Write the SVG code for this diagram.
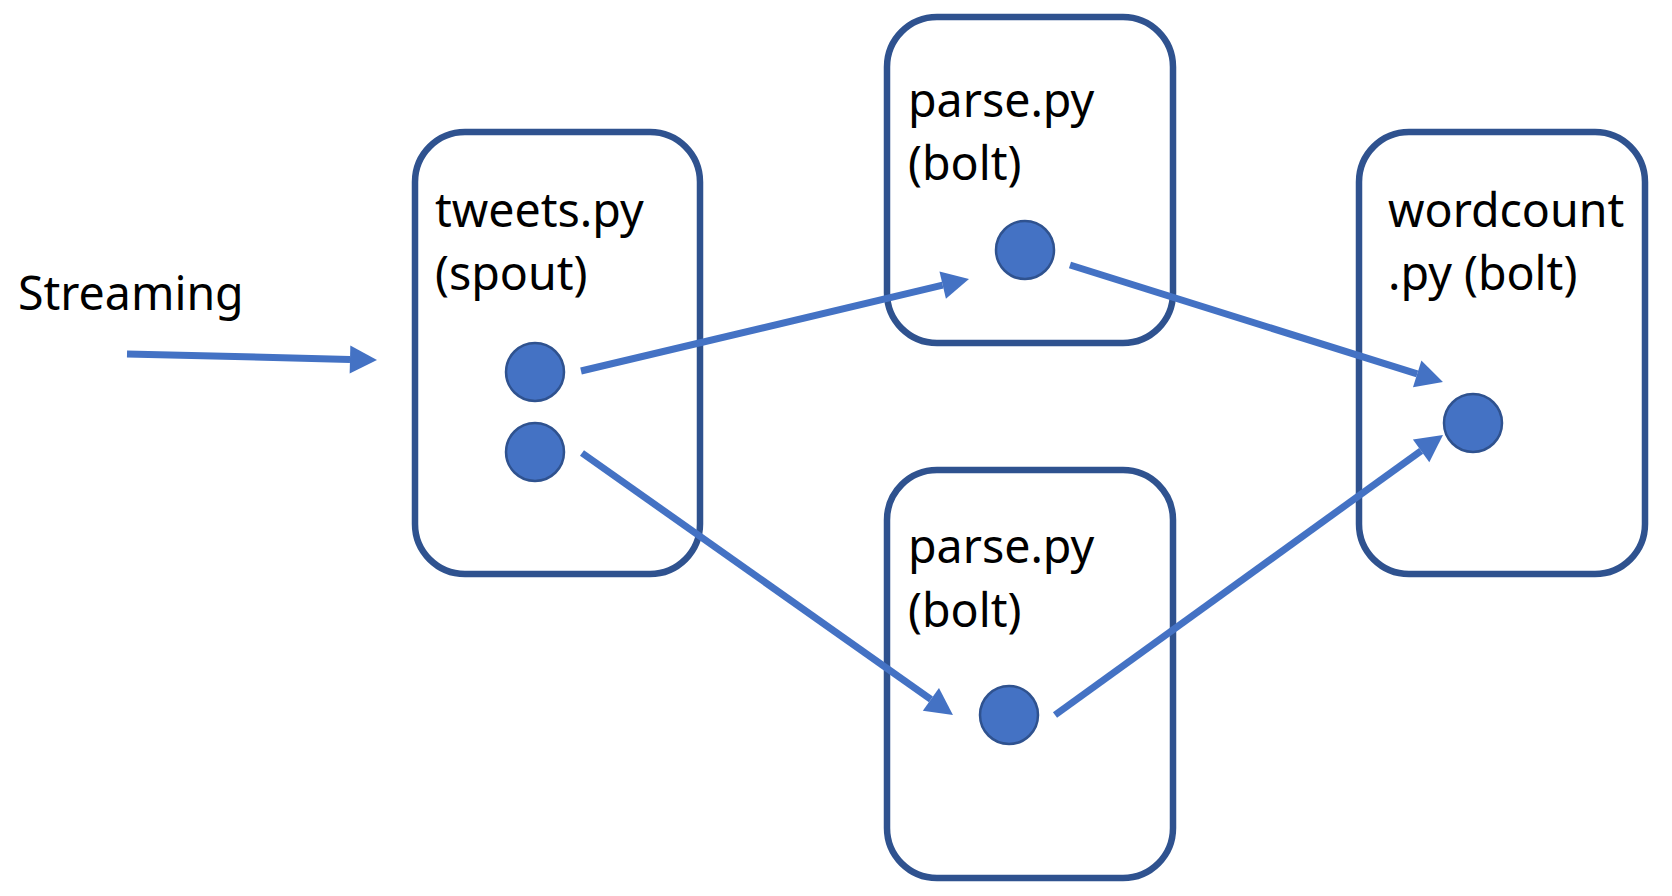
<svg xmlns="http://www.w3.org/2000/svg" width="1672" height="896" viewBox="0 0 1672 896">
<style>
.box{fill:#fff;stroke:#2F528F;stroke-width:6.5}
.dot{fill:#4472C4;stroke:#2F528F;stroke-width:2.5}
.lbl{font-family:"Noto Sans","DejaVu Sans",sans-serif;font-size:46.5px;fill:#000}
.conn{stroke:#4472C4;stroke-width:7;fill:none;marker-end:url(#ah)}
</style>
<defs>
<marker id="ah" markerUnits="userSpaceOnUse" markerWidth="28" markerHeight="28" refX="0" refY="14" orient="auto" overflow="visible">
<path d="M0,0 L27,14 L0,28 z" fill="#4472C4"/>
</marker>
</defs>
<rect width="1672" height="896" fill="#fff"/>
<g id="streaming">
<text class="lbl" x="18" y="310">Streaming</text>
</g>
<g id="tweets">
<rect class="box" x="415" y="132" width="285" height="442" rx="50"/>
<text class="lbl" x="435" y="227">tweets.py</text>
<text class="lbl" x="435" y="290">(spout)</text>
<circle class="dot" cx="535" cy="372" r="29"/>
<circle class="dot" cx="535" cy="452" r="29"/>
</g>
<g id="parse-top">
<rect class="box" x="887" y="17" width="286" height="326" rx="50"/>
<text class="lbl" x="908" y="117">parse.py</text>
<text class="lbl" x="908" y="180">(bolt)</text>
<circle class="dot" cx="1025" cy="250" r="29"/>
</g>
<g id="parse-bottom">
<rect class="box" x="887" y="470" width="286" height="408" rx="50"/>
<text class="lbl" x="908" y="563">parse.py</text>
<text class="lbl" x="908" y="627">(bolt)</text>
<circle class="dot" cx="1009" cy="715" r="29"/>
</g>
<g id="wordcount">
<rect class="box" x="1359" y="132" width="286" height="442" rx="50"/>
<text class="lbl" x="1388" y="227">wordcount</text>
<text class="lbl" x="1388" y="290">.py (bolt)</text>
<circle class="dot" cx="1473" cy="423" r="29"/>
</g>
<g id="connectors">
<line class="conn" x1="127" y1="354" x2="350" y2="359.4"/>
<line class="conn" x1="581" y1="371" x2="942.7" y2="285.2"/>
<line class="conn" x1="1070" y1="265" x2="1417.2" y2="373.9"/>
<line class="conn" x1="582" y1="453" x2="930.9" y2="699.4"/>
<line class="conn" x1="1055" y1="715" x2="1421.1" y2="450.8"/>
</g>
</svg>
